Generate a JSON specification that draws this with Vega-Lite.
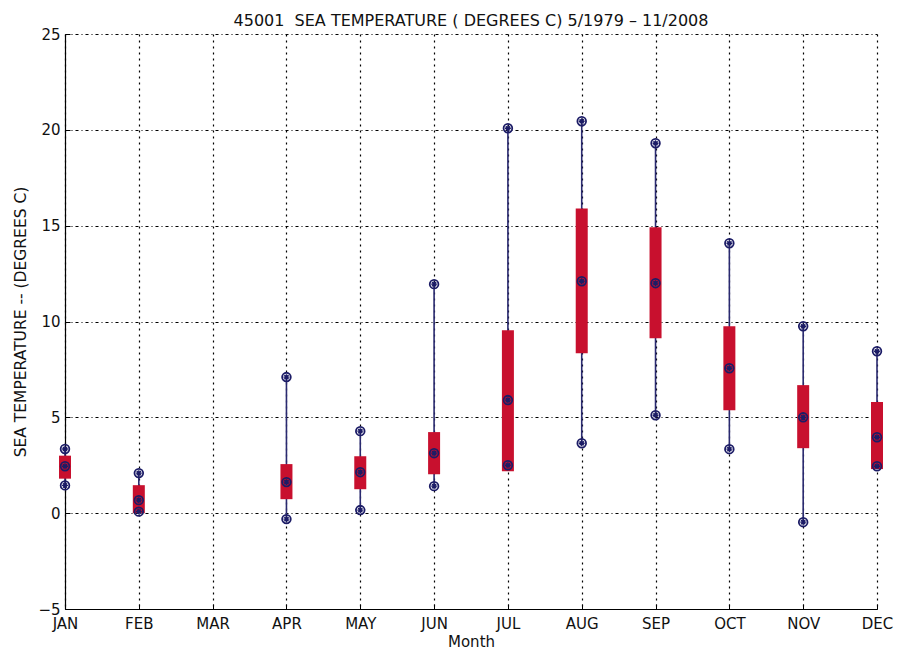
{
  "$schema": "https://vega.github.io/schema/vega-lite/v6.json",
  "width": 812,
  "height": 575,
  "autosize": {"type": "none"},
  "padding": {"left": 65, "top": 34, "right": 22, "bottom": 42},
  "background": "white",
  "title": {
    "text": "45001\u00a0\u00a0SEA TEMPERATURE ( DEGREES C) 5/1979 \u2013 11/2008",
    "fontSize": 16,
    "fontWeight": "normal",
    "font": "DejaVu Sans",
    "color": "#111111",
    "anchor": "middle",
    "baseline": "alphabetic",
    "offset": -15
  },
  "config": {
    "view": {"stroke": null},
    "axis": {
      "labelFont": "DejaVu Sans",
      "titleFont": "DejaVu Sans",
      "labelFontSize": 15,
      "titleFontSize": 15,
      "titleFontWeight": "normal",
      "labelColor": "#111111",
      "titleColor": "#111111",
      "domainColor": "#000000",
      "domainWidth": 1.2,
      "tickColor": "#000000",
      "gridColor": "#000000",
      "gridOpacity": 1,
      "gridWidth": 1.2
    }
  },
  "data": {
    "values": [
      {"month": "JAN", "min": 1.45, "q1": 1.8, "median": 2.45, "q3": 3.0, "max": 3.35},
      {"month": "FEB", "min": 0.08, "q1": 0.0, "median": 0.68, "q3": 1.46, "max": 2.09},
      {"month": "APR", "min": -0.31, "q1": 0.73, "median": 1.62, "q3": 2.56, "max": 7.1},
      {"month": "MAY", "min": 0.16, "q1": 1.25, "median": 2.14, "q3": 2.97, "max": 4.28},
      {"month": "JUN", "min": 1.41, "q1": 2.03, "median": 3.13, "q3": 4.23, "max": 11.95},
      {"month": "JUL", "min": 2.5, "q1": 2.19, "median": 5.9, "q3": 9.55, "max": 20.08},
      {"month": "AUG", "min": 3.65, "q1": 8.35, "median": 12.1, "q3": 15.9, "max": 20.45},
      {"month": "SEP", "min": 5.11, "q1": 9.13, "median": 12.0, "q3": 14.92, "max": 19.3},
      {"month": "OCT", "min": 3.34, "q1": 5.37, "median": 7.56, "q3": 9.75, "max": 14.08},
      {"month": "NOV", "min": -0.47, "q1": 3.39, "median": 5.0, "q3": 6.68, "max": 9.75},
      {"month": "DEC", "min": 2.45, "q1": 2.3, "median": 3.96, "q3": 5.8, "max": 8.45}
    ]
  },
  "encoding": {
    "x": {
      "field": "month",
      "type": "nominal",
      "scale": {
        "type": "point",
        "padding": 0,
        "domain": ["JAN", "FEB", "MAR", "APR", "MAY", "JUN", "JUL", "AUG", "SEP", "OCT", "NOV", "DEC"]
      },
      "axis": {
        "title": "Month",
        "labelAngle": 0,
        "grid": true,
        "gridDash": [2, 4],
        "tickSize": -5,
        "labelPadding": 12,
        "titlePadding": 3
      }
    }
  },
  "layer": [
    {
      "mark": {"type": "rule", "color": "#2a2a70", "strokeWidth": 1.6},
      "encoding": {
        "y": {
          "field": "min",
          "type": "quantitative",
          "scale": {"domain": [-5, 25], "nice": false, "zero": false},
          "axis": {
            "title": "SEA TEMPERATURE -- (DEGREES C)",
            "titleFontSize": 15.5,
            "values": [-5, 0, 5, 10, 15, 20, 25],
            "grid": true,
            "gridDash": [3, 3, 1, 3],
            "tickSize": -5,
            "labelPadding": 10,
            "titlePadding": 9
          }
        },
        "y2": {"field": "max"}
      }
    },
    {
      "mark": {"type": "bar", "color": "#c8102e", "size": 12},
      "encoding": {
        "y": {"field": "q1", "type": "quantitative"},
        "y2": {"field": "q3"}
      }
    },
    {
      "transform": [{"fold": ["min", "median", "max"], "as": ["stat", "val"]}],
      "mark": {"type": "point", "shape": "circle", "filled": false, "stroke": "#1c1c66", "strokeWidth": 1.8, "size": 75, "opacity": 1},
      "encoding": {"y": {"field": "val", "type": "quantitative"}}
    },
    {
      "transform": [{"fold": ["min", "median", "max"], "as": ["stat", "val"]}],
      "mark": {"type": "point", "shape": "M-1,0L1,0M0,-1L0,1M-0.7,-0.7L0.7,0.7M-0.7,0.7L0.7,-0.7", "filled": false, "stroke": "#1c1c66", "strokeWidth": 1.4, "size": 35, "opacity": 1},
      "encoding": {"y": {"field": "val", "type": "quantitative"}}
    }
  ]
}
